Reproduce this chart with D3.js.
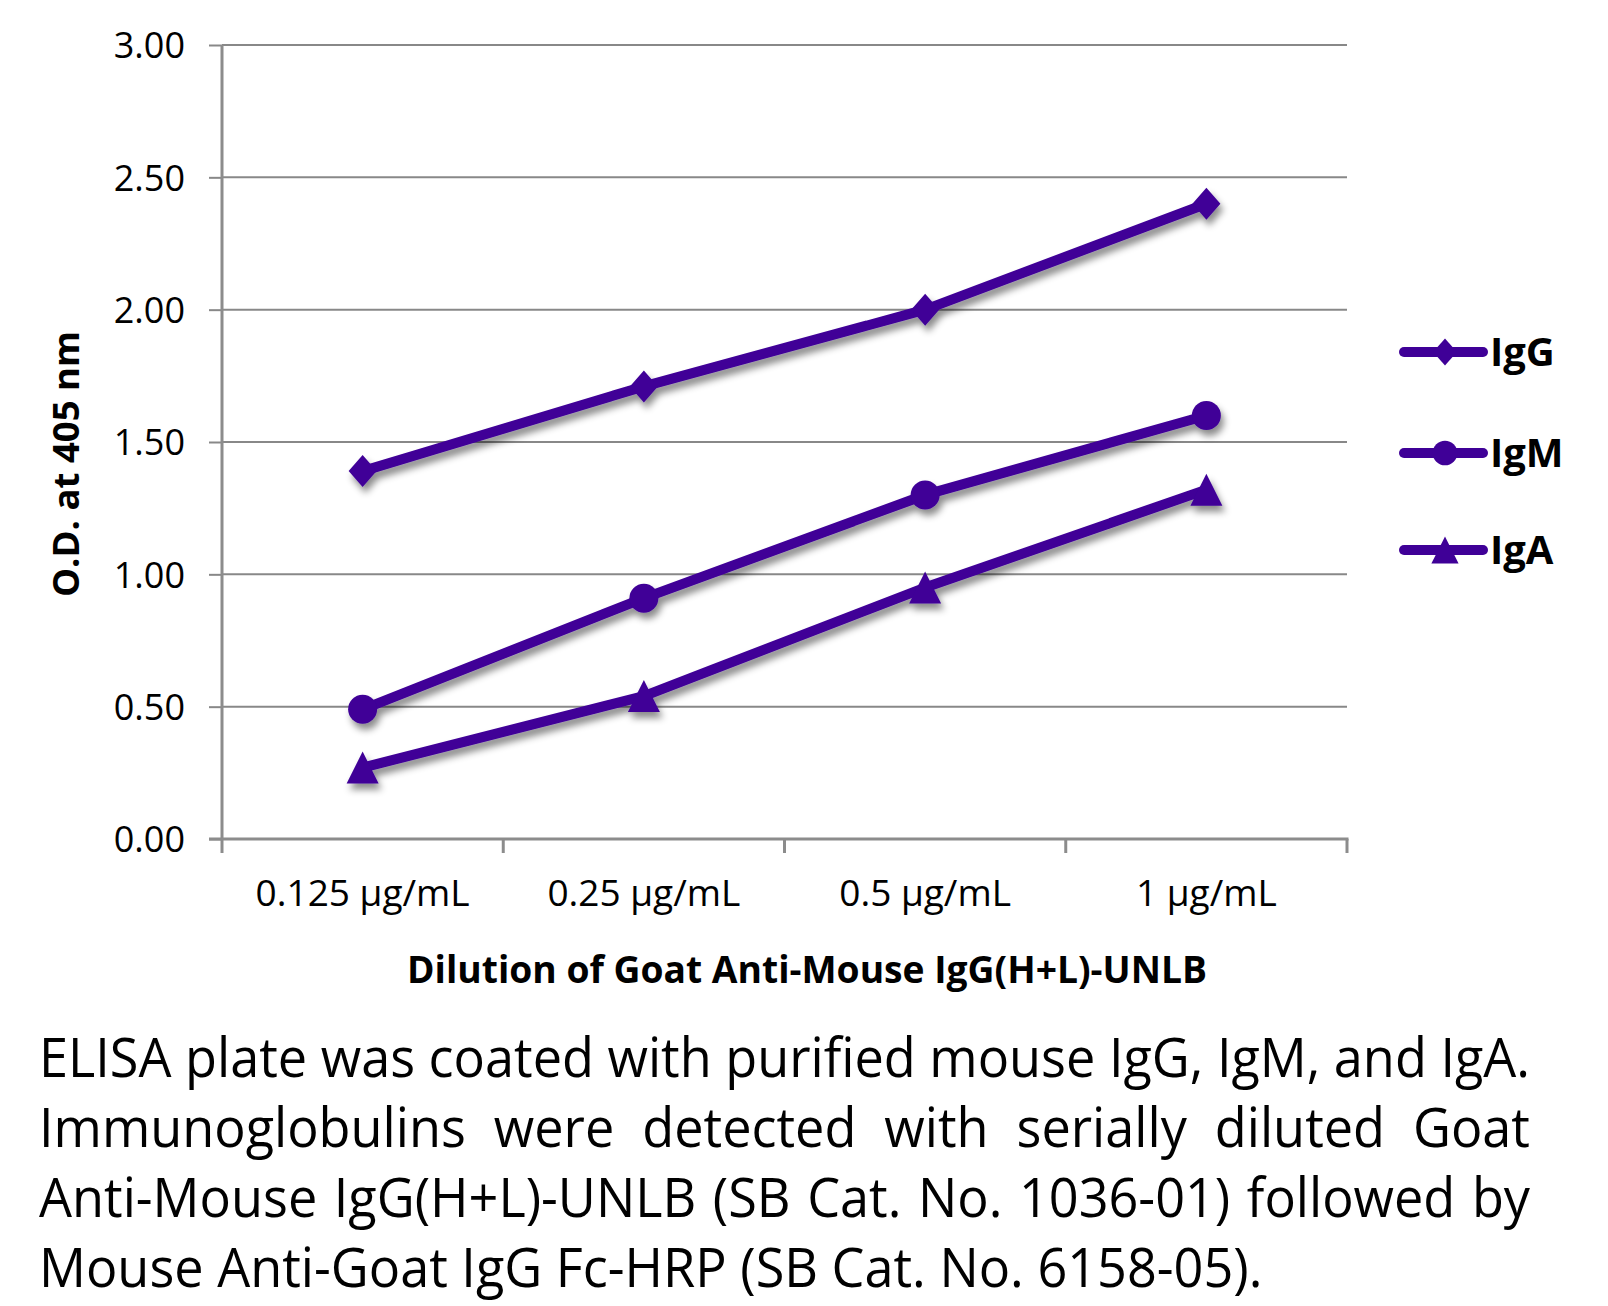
<!DOCTYPE html>
<html>
<head>
<meta charset="utf-8">
<script src="https://cdn.jsdelivr.net/npm/d3@7"></script>
<style>
  html, body { margin: 0; padding: 0; background: #fff; }
  svg { display: block; }
  text { font-family: "Open Sans", "Noto Sans", sans-serif; fill: #000; }
</style>
</head>
<body>
<svg id="chart" width="1608" height="1306"></svg>
<script>
// ---- data ----
const categories = ["0.125 \u00b5g/mL", "0.25 \u00b5g/mL", "0.5 \u00b5g/mL", "1 \u00b5g/mL"];
const seriesNames = ["IgG", "IgM", "IgA"];
const seriesShapes = ["diamond", "circle", "triangle"];
const igG = [1.39, 1.71, 2.00, 2.40];
const igM = [0.49, 0.91, 1.30, 1.60];
const igA = [0.27, 0.54, 0.95, 1.32];
const yTicks = [0, 0.5, 1.0, 1.5, 2.0, 2.5, 3.0];
const yTitle = "O.D. at 405 nm";
const xTitle = "Dilution of Goat Anti-Mouse IgG(H+L)-UNLB";
const captionLines = [
  "ELISA plate was coated with purified mouse IgG, IgM, and IgA.",
  "Immunoglobulins were detected with serially diluted Goat",
  "Anti-Mouse IgG(H+L)-UNLB (SB Cat. No. 1036-01) followed by",
  "Mouse Anti-Goat IgG Fc-HRP (SB Cat. No. 6158-05)."
];

(function () {
const seriesValues = [igG, igM, igA];
const purple = "#3f0097";
const svg = d3.select("#chart");

// ---- layout ----
const pLeft = 222, pRight = 1347, pTop = 45, pBottom = 839;
const x = d3.scaleBand().domain(categories).range([pLeft, pRight]).padding(0);
const y = d3.scaleLinear().domain([0, 3]).range([pBottom, pTop]);

// shadow filter
const defs = svg.append("defs");
const f = defs.append("filter").attr("id", "shadow")
  .attr("x", "-20%").attr("y", "-20%").attr("width", "140%").attr("height", "140%");
f.append("feDropShadow").attr("dx", 3).attr("dy", 6).attr("stdDeviation", 3.5)
  .attr("flood-color", "#000").attr("flood-opacity", 0.45);

// gridlines + y axis
const yAxis = d3.axisLeft(y).tickValues(yTicks).tickFormat(d3.format(".2f"))
  .tickSize(13).tickPadding(24);
const gy = svg.append("g").attr("transform", `translate(${pLeft},0)`).call(yAxis);
gy.select(".domain").remove();
gy.selectAll(".tick line").attr("stroke", "#888").attr("stroke-width", 2);
gy.selectAll(".tick text").style("font-family", "Open Sans").style("font-size", "36px")
  .attr("fill", "#000").attr("dy", "0.36em");
svg.append("g").selectAll("line").data(yTicks.filter(d => d > 0)).join("line")
  .attr("x1", pLeft).attr("x2", pRight)
  .attr("y1", d => y(d)).attr("y2", d => y(d))
  .attr("stroke", "#888").attr("stroke-width", 2);

// x axis
const edges = categories.map(c => x(c)).concat([pRight]);
svg.append("g").selectAll("line").data(edges).join("line")
  .attr("x1", d => d).attr("x2", d => d).attr("y1", pBottom).attr("y2", pBottom + 14)
  .attr("stroke", "#8c8c8c").attr("stroke-width", 3);
svg.append("line").attr("x1", pLeft).attr("x2", pLeft).attr("y1", pTop).attr("y2", pBottom)
  .attr("stroke", "#8c8c8c").attr("stroke-width", 3);
svg.append("line").attr("x1", pLeft - 13).attr("x2", pRight + 1.5).attr("y1", pBottom).attr("y2", pBottom)
  .attr("stroke", "#8c8c8c").attr("stroke-width", 3);
svg.append("g").selectAll("text").data(categories).join("text")
  .attr("x", d => x(d) + x.bandwidth() / 2).attr("y", 906)
  .attr("text-anchor", "middle").style("font-size", "37px")
  .text(d => d);

// titles
svg.append("text").attr("x", 807).attr("y", 983).attr("text-anchor", "middle")
  .style("font-size", "37px").style("font-weight", "bold")
  .attr("textLength", 800).attr("lengthAdjust", "spacingAndGlyphs")
  .text(xTitle);
svg.append("text").attr("transform", "translate(79,464) rotate(-90)")
  .attr("text-anchor", "middle").style("font-size", "36px").style("font-weight", "bold")
  .attr("textLength", 266).attr("lengthAdjust", "spacingAndGlyphs")
  .text(yTitle);

// marker shapes
function markerPath(shape, s) {
  if (shape === "diamond") return `M0,${-16*s}L${14*s},0L0,${16*s}L${-14*s},0Z`;
  if (shape === "circle") { const r = 14.5*s; return `M${r},0A${r},${r} 0 1,1 ${-r},0A${r},${r} 0 1,1 ${r},0Z`; }
  return `M0,${-16*s}L${16*s},${16*s}L${-16*s},${16*s}Z`;
}

// series
const plot = svg.append("g").attr("filter", "url(#shadow)");
const line = d3.line().x((d, i) => x(categories[i]) + x.bandwidth() / 2).y(d => y(d));
seriesValues.forEach((vals, si) => {
  const g = plot.append("g");
  g.append("path").datum(vals).attr("d", line)
    .attr("fill", "none").attr("stroke", purple).attr("stroke-width", 10)
    .attr("stroke-linejoin", "round").attr("stroke-linecap", "round");
  g.selectAll("path.m").data(vals).join("path").attr("class", "m")
    .attr("transform", (d, i) => `translate(${x(categories[i]) + x.bandwidth() / 2},${y(d)})`)
    .attr("d", markerPath(seriesShapes[si], 1)).attr("fill", purple);
});

// legend
const legY = [352, 453, 550];
seriesNames.forEach((name, i) => {
  const g = svg.append("g").attr("transform", `translate(0,${legY[i]})`);
  g.append("line").attr("x1", 1404).attr("x2", 1483).attr("y1", 0).attr("y2", 0)
    .attr("stroke", purple).attr("stroke-width", 10).attr("stroke-linecap", "round");
  g.append("path").attr("transform", "translate(1445,0)")
    .attr("d", markerPath(seriesShapes[i], 0.85)).attr("fill", purple);
  g.append("text").attr("x", 1490).attr("y", 14).style("font-size", "40px")
    .style("font-weight", "bold").text(name);
});

// caption (justified)
const capLeft = 39, capRight = 1530, capFont = 54;
const baselines = [1077, 1147, 1217, 1287];
const measure = svg.append("text").style("font-size", capFont + "px").attr("x", -5000).attr("y", -5000);
function w(s) { measure.text(s); return measure.node().getComputedTextLength(); }
const scaleX = (capRight - capLeft) / w(captionLines[0]);
const spaceW = w("a b") - w("ab");
captionLines.forEach((ln, li) => {
  const g = svg.append("g").attr("transform", `translate(${capLeft},${baselines[li]}) scale(${scaleX},1)`);
  const words = ln.split(" ");
  const widths = words.map(wd => w(wd));
  const total = (capRight - capLeft) / scaleX;
  const justify = li === 1 || li === 2;
  const gap = justify ? (total - d3.sum(widths)) / (words.length - 1) : spaceW;
  let cx = 0;
  words.forEach((wd, k) => {
    g.append("text").attr("x", cx).attr("y", 0).style("font-size", capFont + "px").text(wd);
    cx += widths[k] + gap;
  });
});
measure.remove();
})();
</script>
</body>
</html>
